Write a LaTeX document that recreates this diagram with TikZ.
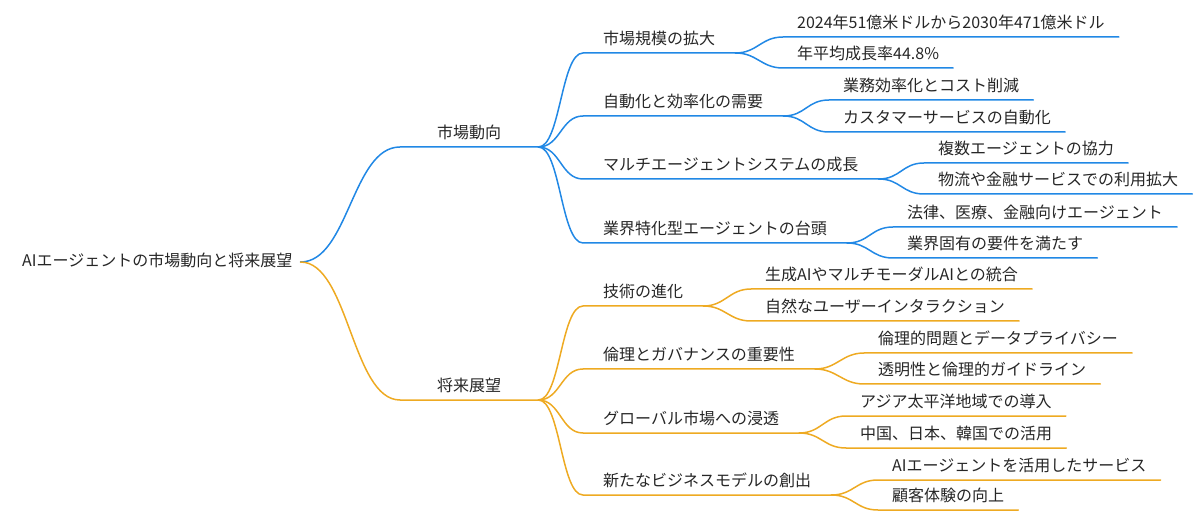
\documentclass[tikz,border=0pt]{standalone}
\usepackage{fontspec}
\setmainfont{Noto Sans CJK JP}

\definecolor{mapblue}{RGB}{33,136,229}
\definecolor{maporange}{RGB}{238,170,34}
\definecolor{maptext}{RGB}{38,38,38}

\begin{document}
\begin{tikzpicture}[
        x = 1pt, y = -1pt, % pixel grid, y pointing down
        font = \fontsize{16pt}{19pt}\selectfont,
        line cap = round,
        every node/.style = {text = maptext, text height = 12pt, text depth = 2pt, inner ysep = 6pt},
        root/.style = {anchor = west, inner xsep = 8pt},
        topic/.style = {anchor = south west, minimum width = 138pt, inner xsep = 0pt},
        subtopic/.style = {anchor = south west, inner xsep = 20pt},
        leaf/.style = {anchor = south west, inner xsep = 14pt},
        blueline/.style = {draw = mapblue, line width = 1.5pt},
        orangeline/.style = {draw = maporange, line width = 1.5pt}
    ]

    \useasboundingbox (0,0) rectangle (1200,521);

    % root
    \node[root] (root) at (14,262) {AIエージェントの市場動向と将来展望};

    % main branches
    \node[topic] (market) at (400,147) {市場動向};
    \node[topic] (future) at (400,400) {将来展望};

    % market trends
    \node[subtopic] (scale) at (583,53) {市場規模の拡大};
    \node[subtopic] (autom) at (583,116) {自動化と効率化の需要};
    \node[subtopic] (multi) at (583,179) {マルチエージェントシステムの成長};
    \node[subtopic] (vert) at (583,243) {業界特化型エージェントの台頭};

    \node[leaf] (scale1) at (783,37) {2024年51億米ドルから2030年471億米ドル};
    \node[leaf] (scale2) at (783,68) {年平均成長率44.8\%};
    \node[leaf] (autom1) at (829,100) {業務効率化とコスト削減};
    \node[leaf] (autom2) at (829,132) {カスタマーサービスの自動化};
    \node[leaf] (multi1) at (924,163) {複数エージェントの協力};
    \node[leaf] (multi2) at (924,194) {物流や金融サービスでの利用拡大};
    \node[leaf] (vert1) at (893,227) {法律、医療、金融向けエージェント};
    \node[leaf] (vert2) at (893,258) {業界固有の要件を満たす};

    % future outlook
    \node[subtopic] (tech) at (583,306) {技術の進化};
    \node[subtopic] (ethics) at (583,369) {倫理とガバナンスの重要性};
    \node[subtopic] (global) at (583,433) {グローバル市場への浸透};
    \node[subtopic] (biz) at (583,495) {新たなビジネスモデルの創出};

    \node[leaf] (tech1) at (751,289) {生成AIやマルチモーダルAIとの統合};
    \node[leaf] (tech2) at (751,321) {自然なユーザーインタラクション};
    \node[leaf] (ethics1) at (864,353) {倫理的問題とデータプライバシー};
    \node[leaf] (ethics2) at (864,384) {透明性と倫理的ガイドライン};
    \node[leaf] (global1) at (846,416) {アジア太平洋地域での導入};
    \node[leaf] (global2) at (846,448) {中国、日本、韓国での活用};
    \node[leaf] (biz1) at (878,480) {AIエージェントを活用したサービス};
    \node[leaf] (biz2) at (878,510) {顧客体験の向上};

    % links, each one runs on into the child's underline
    \draw[blueline] (root.east) .. controls +(48,0) and +(-48,0) .. (market.south west) -- (market.south east);
    \draw[orangeline] (root.east) .. controls +(48,0) and +(-48,0) .. (future.south west) -- (future.south east);

    \draw[blueline] (market.south east) .. controls +(22,0) and +(-22,0) .. (scale.south west) -- (scale.south east);
    \draw[blueline] (market.south east) .. controls +(22,0) and +(-22,0) .. (autom.south west) -- (autom.south east);
    \draw[blueline] (market.south east) .. controls +(22,0) and +(-22,0) .. (multi.south west) -- (multi.south east);
    \draw[blueline] (market.south east) .. controls +(22,0) and +(-22,0) .. (vert.south west) -- (vert.south east);

    \draw[blueline] (scale.south east) .. controls +(22,0) and +(-22,0) .. (scale1.south west) -- (scale1.south east);
    \draw[blueline] (scale.south east) .. controls +(22,0) and +(-22,0) .. (scale2.south west) -- (scale2.south east);
    \draw[blueline] (autom.south east) .. controls +(22,0) and +(-22,0) .. (autom1.south west) -- (autom1.south east);
    \draw[blueline] (autom.south east) .. controls +(22,0) and +(-22,0) .. (autom2.south west) -- (autom2.south east);
    \draw[blueline] (multi.south east) .. controls +(22,0) and +(-22,0) .. (multi1.south west) -- (multi1.south east);
    \draw[blueline] (multi.south east) .. controls +(22,0) and +(-22,0) .. (multi2.south west) -- (multi2.south east);
    \draw[blueline] (vert.south east) .. controls +(22,0) and +(-22,0) .. (vert1.south west) -- (vert1.south east);
    \draw[blueline] (vert.south east) .. controls +(22,0) and +(-22,0) .. (vert2.south west) -- (vert2.south east);

    \draw[orangeline] (future.south east) .. controls +(22,0) and +(-22,0) .. (tech.south west) -- (tech.south east);
    \draw[orangeline] (future.south east) .. controls +(22,0) and +(-22,0) .. (ethics.south west) -- (ethics.south east);
    \draw[orangeline] (future.south east) .. controls +(22,0) and +(-22,0) .. (global.south west) -- (global.south east);
    \draw[orangeline] (future.south east) .. controls +(22,0) and +(-22,0) .. (biz.south west) -- (biz.south east);

    \draw[orangeline] (tech.south east) .. controls +(22,0) and +(-22,0) .. (tech1.south west) -- (tech1.south east);
    \draw[orangeline] (tech.south east) .. controls +(22,0) and +(-22,0) .. (tech2.south west) -- (tech2.south east);
    \draw[orangeline] (ethics.south east) .. controls +(22,0) and +(-22,0) .. (ethics1.south west) -- (ethics1.south east);
    \draw[orangeline] (ethics.south east) .. controls +(22,0) and +(-22,0) .. (ethics2.south west) -- (ethics2.south east);
    \draw[orangeline] (global.south east) .. controls +(22,0) and +(-22,0) .. (global1.south west) -- (global1.south east);
    \draw[orangeline] (global.south east) .. controls +(22,0) and +(-22,0) .. (global2.south west) -- (global2.south east);
    \draw[orangeline] (biz.south east) .. controls +(22,0) and +(-22,0) .. (biz1.south west) -- (biz1.south east);
    \draw[orangeline] (biz.south east) .. controls +(22,0) and +(-22,0) .. (biz2.south west) -- (biz2.south east);

\end{tikzpicture}
\end{document}
